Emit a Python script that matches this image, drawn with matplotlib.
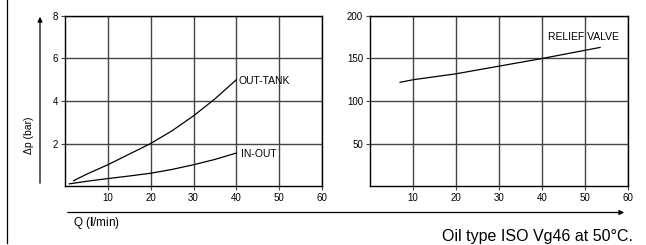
import matplotlib.pyplot as plt
from matplotlib.patches import FancyArrowPatch

plt.rcParams["font.family"] = ["Liberation Sans", "DejaVu Sans"]
plt.rcParams["mathtext.fontset"] = "custom"
plt.rcParams["mathtext.rm"] = "Liberation Sans"
plt.rcParams["mathtext.bf"] = "Liberation Sans:bold"

# data
q_ticks = [10, 20, 30, 40, 50, 60]
dp_ticks_left = [2, 4, 6, 8]
dp_ticks_right = [50, 100, 150, 200]

out_tank_q = [2, 5, 10, 15, 20, 25, 30, 35, 40]
out_tank_dp = [0.25, 0.55, 1.0, 1.5, 2.0, 2.6, 3.3, 4.1, 5.0]

in_out_q = [1, 5, 10, 15, 20, 25, 30, 35, 40]
in_out_dp = [0.1, 0.22, 0.35, 0.47, 0.6, 0.78, 1.0, 1.25, 1.55]

relief_q = [7, 10, 20, 30, 40, 53.5]
relief_dp = [122, 125, 132, 141, 150, 163]

W, H = 646, 245
fig = plt.figure(figsize=(6.46, 2.45), dpi=100)


def px_axes(x0, y0, x1, y1):
    return fig.add_axes([x0 / W, 1 - y1 / H, (x1 - x0) / W, (y1 - y0) / H])


def style(ax, ymax, yticks):
    ax.set_xlim(0, 60)
    ax.set_ylim(0, ymax)
    ax.set_xticks(q_ticks)
    ax.set_yticks(yticks)
    ax.grid(True, color="#444444", linewidth=1.0)
    ax.set_axisbelow(True)
    ax.tick_params(labelsize=7, length=3, width=0.8, pad=2, color="#444444")
    for s in ax.spines.values():
        s.set_linewidth(1.0)
        s.set_color("black")


ax1 = px_axes(65, 16, 322, 186)
style(ax1, 8, dp_ticks_left)
ax1.plot(out_tank_q, out_tank_dp, color="black", linewidth=0.9)
ax1.plot(in_out_q, in_out_dp, color="black", linewidth=0.9)
ax1.text(40.4, 4.95, "OUT-TANK", fontsize=7.5, va="center", ha="left")
ax1.text(41.0, 1.5, "IN-OUT", fontsize=7.5, va="center", ha="left")

ax2 = px_axes(370, 16, 628, 186)
style(ax2, 200, dp_ticks_right)
ax2.plot(relief_q, relief_dp, color="black", linewidth=0.9)
ax2.text(41.3, 175, "RELIEF VALVE", fontsize=7.5, va="center", ha="left")

# axis arrows, frame line and labels in pixel coordinates
def fx(x):
    return x / W


def fy(y):
    return 1 - y / H


fig.add_artist(FancyArrowPatch((fx(40), fy(186)), (fx(40), fy(14)),
                               transform=fig.transFigure, arrowstyle="-|>",
                               mutation_scale=7, color="black", linewidth=0.9))
fig.add_artist(FancyArrowPatch((fx(65), fy(212.5)), (fx(627), fy(212.5)),
                               transform=fig.transFigure, arrowstyle="-|>",
                               mutation_scale=7, color="black", linewidth=0.9))
fig.add_artist(plt.Line2D([fx(7), fx(7)], [fy(243), 1], transform=fig.transFigure,
                          color="black", linewidth=0.9))

fig.text(fx(29), fy(135), "Δp (bar)", rotation=90, fontsize=7.5,
         ha="center", va="center")
fig.text(fx(73), fy(223), r"Q ($\mathbf{l}$/min)", fontsize=8.5, ha="left",
         va="center")
fig.text(fx(633), fy(236), "Oil type ISO Vg46 at 50°C.", fontsize=11.5,
         ha="right", va="center")

fig.savefig("out.png", dpi=100)
